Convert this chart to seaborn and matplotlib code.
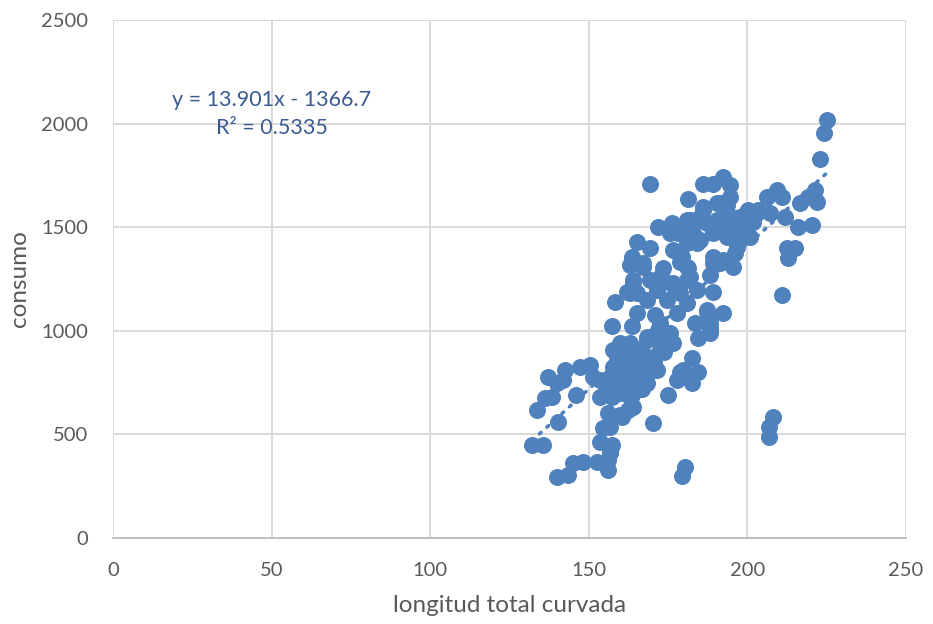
import matplotlib
matplotlib.use("Agg")
import matplotlib.pyplot as plt
import seaborn as sns
import numpy as np
import pandas as pd

longitud = [
    132.1, 135.6, 133.7, 136.2, 138.4, 137.1, 142.5, 141.9, 140.0, 147.2,
    150.4, 146.0, 140.3, 140.0, 143.4, 145.0, 148.2, 152.6, 156.1, 156.1,
    156.7, 153.5, 157.3, 154.5, 156.7, 156.1, 160.5, 162.4, 163.6, 153.5,
    157.3, 151.3, 153.5, 157.6, 159.8, 163.6, 157.6, 162.1, 166.1, 170.2,
    168.3, 163.9, 159.8, 158.9, 163.9, 167.1, 171.5, 170.2, 158.3, 165.2,
    170.9, 157.3, 163.6, 174.9, 177.8, 178.7, 182.6, 184.4, 182.6, 183.5,
    184.4, 187.3, 188.2, 188.2, 192.3, 180.3, 179.4, 208.1, 206.8, 206.8,
    159.8, 163.0, 163.9, 159.8, 156.7, 159.8, 163.0, 158.9, 162.1, 165.2,
    162.1, 156.7, 158.9, 163.9, 168.3, 172.4, 175.6, 172.4, 176.5, 179.7,
    169.3, 181.3, 186.0, 189.2, 192.3, 194.5, 194.5, 193.6, 190.4, 186.0,
    171.8, 176.2, 178.1, 181.9, 185.1, 181.9, 185.1, 189.2, 190.4, 194.5,
    194.5, 199.9, 203.0, 200.8, 196.7, 193.6, 165.2, 169.3, 163.6, 163.0,
    167.1, 176.5, 178.7, 173.4, 180.9, 189.2, 192.3, 195.5, 189.2, 188.2,
    181.9, 163.9, 169.3, 173.4, 176.5, 162.1, 165.2, 171.5, 178.7, 184.1,
    189.2, 168.3, 174.6, 180.9, 177.8, 172.4, 188.2, 175.6, 225.1, 224.1,
    222.9, 206.2, 209.3, 210.9, 207.1, 211.9, 200.2, 203.3, 198.6, 201.8,
    195.5, 216.6, 219.1, 221.3, 221.9, 216.0, 220.4, 212.5, 215.0, 212.8,
    196.1, 196.1, 210.9, 191.4, 186.0, 185.1, 180.9, 175.6, 179.4, 182.9,
    187.3, 193.6, 190.4, 184.1, 180.9, 197.7, 179.4, 181.3, 163.9, 163.0,
    172.4, 176.5, 180.9, 188.2, 171.8, 174.6, 168.3, 191.4, 187.3, 167.1,
    197.7, 161.0, 165.5, 168.0, 160.2, 166.8, 155.0, 170.5, 173.8,
]
consumo = [
    449, 449, 618, 674, 682, 778, 811, 762, 747, 827,
    835, 690, 561, 296, 304, 361, 368, 368, 328, 376,
    416, 465, 449, 529, 537, 602, 585, 618, 690, 682,
    682, 778, 762, 907, 931, 923, 827, 827, 827, 811,
    747, 747, 747, 859, 875, 859, 811, 554, 1140, 1084,
    1076, 1023, 1023, 690, 762, 803, 867, 803, 747, 1036,
    964, 1100, 1020, 988, 1084, 344, 300, 585, 537, 489,
    698, 682, 634, 594, 409, 940, 940, 843, 875, 891,
    778, 778, 730, 730, 971, 971, 956, 907, 940, 811,
    1708, 1636, 1708, 1708, 1744, 1704, 1647, 1607, 1615, 1583,
    1501, 1519, 1470, 1535, 1535, 1454, 1438, 1470, 1535, 1551,
    1502, 1573, 1567, 1454, 1406, 1454, 1430, 1398, 1358, 1317,
    1309, 1390, 1333, 1302, 1309, 1358, 1342, 1309, 1326, 1269,
    1261, 1245, 1245, 1245, 1221, 1189, 1181, 1197, 1181, 1197,
    1189, 1149, 1149, 1133, 1084, 1036, 1044, 988, 2017, 1955,
    1829, 1647, 1679, 1647, 1567, 1551, 1583, 1583, 1519, 1525,
    1544, 1615, 1647, 1679, 1622, 1502, 1511, 1398, 1398, 1350,
    1470, 1374, 1173, 1615, 1599, 1551, 1535, 1470, 1470, 1470,
    1519, 1567, 1486, 1422, 1422, 1438, 1358, 1302, 1237, 1181,
    1261, 1229, 1245, 1004, 1004, 988, 956, 1326, 1092, 1326,
    1551, 800, 790, 880, 870, 720, 700, 850, 900,
]

slope = 13.901
intercept = -1366.7
eq_lines = ["y = 13.901x - 1366.7", "R² = 0.5335"]

x_ticks = [0, 50, 100, 150, 200, 250]
y_ticks = [0, 500, 1000, 1500, 2000, 2500]

df = pd.DataFrame({"longitud total curvada": longitud, "consumo": consumo})

sns.set_theme(style="white")
plt.rcParams["font.family"] = ["Lato", "DejaVu Sans"]

blue = "#4F81BD"
fig = plt.figure(figsize=(9.33, 6.24), dpi=100)
ax = fig.add_axes([113 / 933, 86 / 624, 793 / 933, 518 / 624])

sns.scatterplot(data=df, x="longitud total curvada", y="consumo", ax=ax,
                color=blue, s=150, linewidth=0, alpha=1, zorder=3)

xs = np.linspace(min(longitud), max(longitud), 50)
ax.plot(xs, slope * xs + intercept, linestyle=(0, (0.6, 2.2)), color=blue,
        linewidth=2.6, dash_capstyle="round", zorder=4)

ax.set_xlim(0, 250)
ax.set_ylim(0, 2500)
ax.set_xticks(x_ticks)
ax.set_yticks(y_ticks)
ax.grid(True, color="#D9D9D9", linewidth=1.4)
ax.set_axisbelow(True)
for side in ["top", "right", "left"]:
    ax.spines[side].set_visible(False)
ax.spines["bottom"].set_color("#BFBFBF")
ax.spines["bottom"].set_linewidth(1.4)
ax.tick_params(axis="both", length=0, labelsize=14.5, colors="#595959")
ax.tick_params(axis="y", pad=18)
ax.tick_params(axis="x", pad=17)
ax.set_xlabel("longitud total curvada", fontsize=17.5, color="#595959", labelpad=12)
ax.set_ylabel("consumo", fontsize=17.5, color="#595959", labelpad=8)

ax.text(50.1, 2048, "\n".join(eq_lines), ha="center", va="center",
        multialignment="center", fontsize=15.5, color="#3A5A94", linespacing=1.5)

fig.savefig("out.png", dpi=100)
